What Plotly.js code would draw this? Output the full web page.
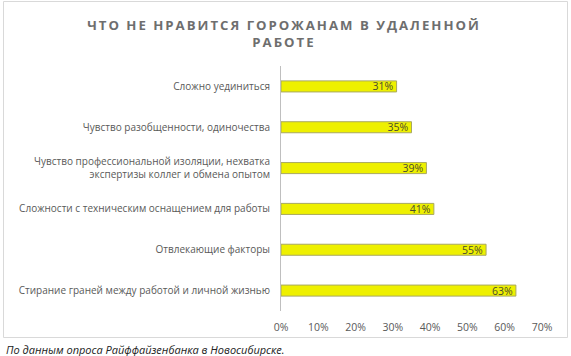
<!DOCTYPE html>
<html><head><meta charset="utf-8">
<script src="https://cdn.plot.ly/plotly-3.0.1.min.js"></script>
<style>
html,body{margin:0;padding:0;background:#fff;}
#chart .gtitle{letter-spacing:2px;}
</style>
</head><body>
<div id="chart" style="width:571px;height:356px;"></div>
<script>
const categories = [
  "Сложно уединиться",
  "Чувство разобщенности, одиночества",
  "Чувство профессиональной изоляции, нехватка<br>экспертизы коллег и обмена опытом",
  "Сложности с техническим оснащением для работы",
  "Отвлекающие факторы",
  "Стирание граней между работой и личной жизнью"
];
const values = [31, 35, 39, 41, 55, 63];
const valueLabels = values.map(v => v + "%");
const xTickVals = [0, 10, 20, 30, 40, 50, 60, 70];
const xTickText = xTickVals.map(v => v + "%");
const titleText = "ЧТО НЕ НРАВИТСЯ ГОРОЖАНАМ В УДАЛЕННОЙ<br>РАБОТЕ";
const captionText = "По данным опроса Райффайзенбанка в Новосибирске.";

const FONT = "Open Sans, Noto Sans, DejaVu Sans, sans-serif";
const L = 281, R = 542, T = 66, B = 311;
const W = 571, H = 356;
const px = x => (x - L) / (R - L);
const py = y => (B - y) / (B - T);

const trace = {
  type: "bar",
  orientation: "h",
  y: categories,
  x: values,
  width: 0.27,
  marker: {color: "#eef000", line: {color: "#a8a860", width: 1}},
  text: valueLabels,
  textposition: "inside",
  insidetextanchor: "end",
  constraintext: "none",
  textfont: {family: FONT, size: 10.5, color: "#4a4a30"},
  hoverinfo: "none"
};

const layout = {
  width: W, height: H,
  margin: {l: L, r: W - R, t: T, b: H - B, pad: 0},
  paper_bgcolor: "#fff", plot_bgcolor: "#fff",
  showlegend: false,
  font: {family: FONT, color: "#595959"},
  title: {
    text: titleText,
    font: {family: FONT, size: 13.2, color: "#6e6e6e", weight: "bold", lineposition: "none"},
    x: px(284), xanchor: "center", xref: "paper",
    y: 1 - 30 / H, yanchor: "middle"
  },
  xaxis: {
    range: [0, 70], tickvals: xTickVals, ticktext: xTickText,
    showgrid: false, zeroline: false, showline: false, ticks: "",
    tickfont: {family: FONT, size: 10.5, color: "#595959"},
    ticklabelstandoff: 8, fixedrange: true
  },
  yaxis: {
    type: "category", autorange: "reversed",
    showgrid: false, zeroline: false, showline: true, linecolor: "#bfbfbf", linewidth: 1,
    ticks: "", tickfont: {family: FONT, size: 10, color: "#595959"},
    ticklabelstandoff: 8, fixedrange: true
  },
  shapes: [{
    type: "rect", xref: "paper", yref: "paper",
    x0: px(3.5), x1: px(567.5), y0: py(337.5), y1: py(1.5),
    line: {color: "#d9d9d9", width: 1}, fillcolor: "rgba(0,0,0,0)", layer: "below"
  }],
  annotations: [{
    text: "<i>" + captionText + "</i>", xref: "paper", yref: "paper",
    x: px(4), y: py(349), xanchor: "left", yanchor: "middle", showarrow: false,
    font: {family: FONT, size: 11, color: "#222"}
  }]
};

Plotly.newPlot("chart", [trace], layout, {displayModeBar: false, staticPlot: true});
</script>
</body></html>
